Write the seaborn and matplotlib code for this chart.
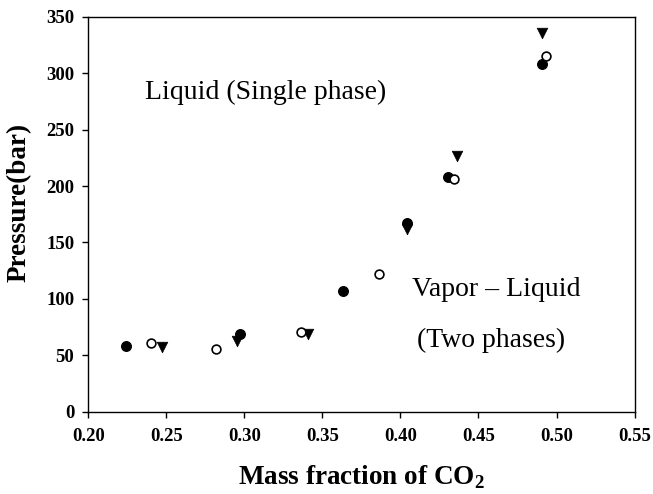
import matplotlib
matplotlib.use('Agg')
import matplotlib.pyplot as plt
import seaborn as sns
import pandas as pd

# data: mass fraction of CO2 vs pressure (bar)
filled_x = [0.224, 0.297, 0.363, 0.404, 0.4305, 0.491]
filled_p = [58, 69, 107, 167, 208, 308]

open_x = [0.240, 0.282, 0.336, 0.386, 0.434, 0.493]
open_p = [61, 56, 71, 122, 206, 315]

tri_x = [0.247, 0.295, 0.341, 0.404, 0.436, 0.491]
tri_p = [57, 63, 69, 162, 227, 336]

x_ticks = [0.20, 0.25, 0.30, 0.35, 0.40, 0.45, 0.50, 0.55]
y_ticks = [0, 50, 100, 150, 200, 250, 300, 350]

sns.set_style('white')
plt.rcParams['font.family'] = ['Liberation Serif', 'DejaVu Serif']
plt.rcParams['mathtext.fontset'] = 'custom'
plt.rcParams['mathtext.rm'] = 'Liberation Serif'
plt.rcParams['mathtext.bf'] = 'Liberation Serif:bold'
plt.rcParams['text.color'] = 'black'
plt.rcParams['axes.labelcolor'] = 'black'
plt.rcParams['xtick.color'] = 'black'
plt.rcParams['ytick.color'] = 'black'

fig = plt.figure(figsize=(6.53, 4.94), dpi=100)
ax = fig.add_axes([0.1352, 0.1666, 0.8366, 0.7995])

df_f = pd.DataFrame({'x': filled_x, 'p': filled_p})
df_o = pd.DataFrame({'x': open_x, 'p': open_p})
df_t = pd.DataFrame({'x': tri_x, 'p': tri_p})

sns.scatterplot(data=df_f, x='x', y='p', marker='o', s=50, color='black',
                edgecolor='black', linewidth=0.8, ax=ax, zorder=3)
sns.scatterplot(data=df_o, x='x', y='p', marker='o', s=40, facecolor='white',
                edgecolor='black', linewidth=1.2, ax=ax, zorder=4)
sns.scatterplot(data=df_t, x='x', y='p', marker='v', s=58, color='black',
                edgecolor='black', linewidth=0.5, ax=ax, zorder=3)

ax.set_xlim(0.20, 0.55)
ax.set_ylim(0, 350)
ax.set_xticks(x_ticks)
ax.set_yticks(y_ticks)
ax.set_xticklabels([f'{v:.2f}' for v in x_ticks], fontweight='bold', fontsize=13.5)
ax.set_yticklabels([str(v) for v in y_ticks], fontweight='bold', fontsize=13.5)

for sp in ax.spines.values():
    sp.set_visible(True)
    sp.set_color('black')
    sp.set_linewidth(1.0)

ax.tick_params(axis='both', which='major', direction='out', length=4, width=1.0,
               color='black', pad=6, bottom=True, left=True, top=False, right=False)
ax.tick_params(axis='x', pad=8)

ax.set_xlabel(r'Mass fraction of CO$_\mathbf{2}$', fontsize=19.5, fontweight='bold', labelpad=13)
ax.set_ylabel('Pressure(bar)', fontsize=19.5, fontweight='bold')
ax.yaxis.set_label_coords(-0.103, 0.53)

ax.text(0.2365, 283, 'Liquid (Single phase)', fontsize=20, va='center', ha='left')
ax.text(0.4075, 108, 'Vapor \u2013 Liquid', fontsize=20, va='center', ha='left')
ax.text(0.4107, 63, '(Two phases)', fontsize=20, va='center', ha='left')

fig.savefig('out.png', dpi=100)
